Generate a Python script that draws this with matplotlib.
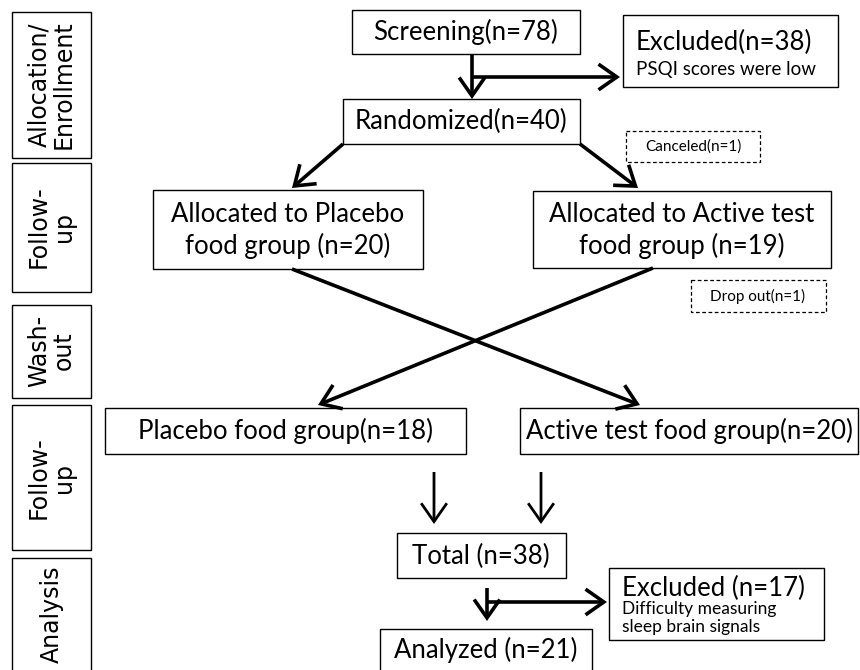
import matplotlib.pyplot as plt
from matplotlib.patches import Rectangle, FancyArrowPatch

# stage labels on the left
stages = ["Allocation/\nEnrollment", "Follow-\nup", "Wash-\nout", "Follow-\nup", "Analysis"]

# participant counts
n_screen = 78
n_excl_psqi = 38
n_random = 40
n_canceled = 1
n_alloc_placebo = 20
n_alloc_active = 19
n_dropout = 1
n_placebo = 18
n_active = 20
n_total = 38
n_excl_signal = 17
n_analyzed = 21

main_font = ["Lato", "DejaVu Sans"]

fig = plt.figure(figsize=(8.6, 6.7), dpi=100)
ax = fig.add_axes([0, 0, 1, 1])
ax.set_xlim(0, 860)
ax.set_ylim(670, 0)
ax.axis("off")


def box(x0, y0, x1, y1, ls="-", lw=1.0):
    ax.add_patch(Rectangle((x0, y0), x1 - x0, y1 - y0, fill=False, ec="black",
                           lw=lw, ls=ls, joinstyle="miter"))


def arrow(p0, p1, lw=2.6):
    ax.add_patch(FancyArrowPatch(p0, p1, arrowstyle="->,head_length=0.6,head_width=0.42",
                                 mutation_scale=22, lw=lw, color="black",
                                 shrinkA=0, shrinkB=0, capstyle="butt", joinstyle="miter"))


def label(x, y, s, size=18.5, ha="center"):
    ax.text(x, y, s, ha=ha, va="center", fontsize=size, family=main_font)


# left column
stage_y = [(12, 158), (163, 292), (305, 398), (405, 550), (558, 690)]
stage_mid = [85, 227, 351, 478, 614]
for s, (y0, y1), ym in zip(stages, stage_y, stage_mid):
    box(12, y0, 91, y1)
    ax.text(51.5, ym, s, rotation=90, ha="center", va="center",
            fontsize=17, family="DejaVu Sans", linespacing=1.05)

# enrollment
box(352, 10, 580, 54)
label(466, 32, f"Screening(n={n_screen})")
box(623, 15, 838, 87)
label(636, 42, f"Excluded(n={n_excl_psqi})", ha="left")
label(636, 69, "PSQI scores were low", size=13.5, ha="left")
arrow((472, 54), (472, 99))
arrow((471, 77), (620, 77))

box(343, 99, 580, 144)
label(461, 121, f"Randomized(n={n_random})")
box(626, 131, 760, 162, ls=(0, (3, 2)), lw=0.9)
label(693, 147, f"Canceled(n={n_canceled})", size=11)

arrow((343, 144), (292, 188))
arrow((580, 144), (638, 188))

# first period
box(153, 190, 423, 269)
label(288, 215, "Allocated to Placebo")
label(288, 246, f"food group (n={n_alloc_placebo})")
box(533, 191, 831, 268)
label(682, 215, "Allocated to Active test")
label(682, 246, f"food group (n={n_alloc_active})")
box(691, 280, 826, 312, ls=(0, (3, 2)), lw=0.9)
label(758, 296, f"Drop out(n={n_dropout})", size=11)

# wash-out crossover
arrow((292, 269), (640, 405))
arrow((653, 268), (318, 405))

# second period
box(105, 408, 466, 454)
label(285, 431, f"Placebo food group(n={n_placebo})")
box(520, 408, 858, 454)
label(689, 431, f"Active test food group(n={n_active})")

arrow((434, 472), (434, 524), lw=2.0)
arrow((541, 472), (541, 524), lw=2.0)

# analysis
box(397, 533, 566, 578)
label(481, 556, f"Total (n={n_total})")
arrow((487, 588), (487, 621))
arrow((486, 602), (607, 602))
box(609, 568, 824, 640)
label(622, 588, f"Excluded (n={n_excl_signal})", ha="left")
label(622, 609, "Difficulty measuring", size=12.5, ha="left")
label(622, 627, "sleep brain signals", size=12.5, ha="left")
box(380, 629, 592, 690)
label(486, 650, f"Analyzed (n={n_analyzed})")

fig.savefig("out.png", dpi=100)
